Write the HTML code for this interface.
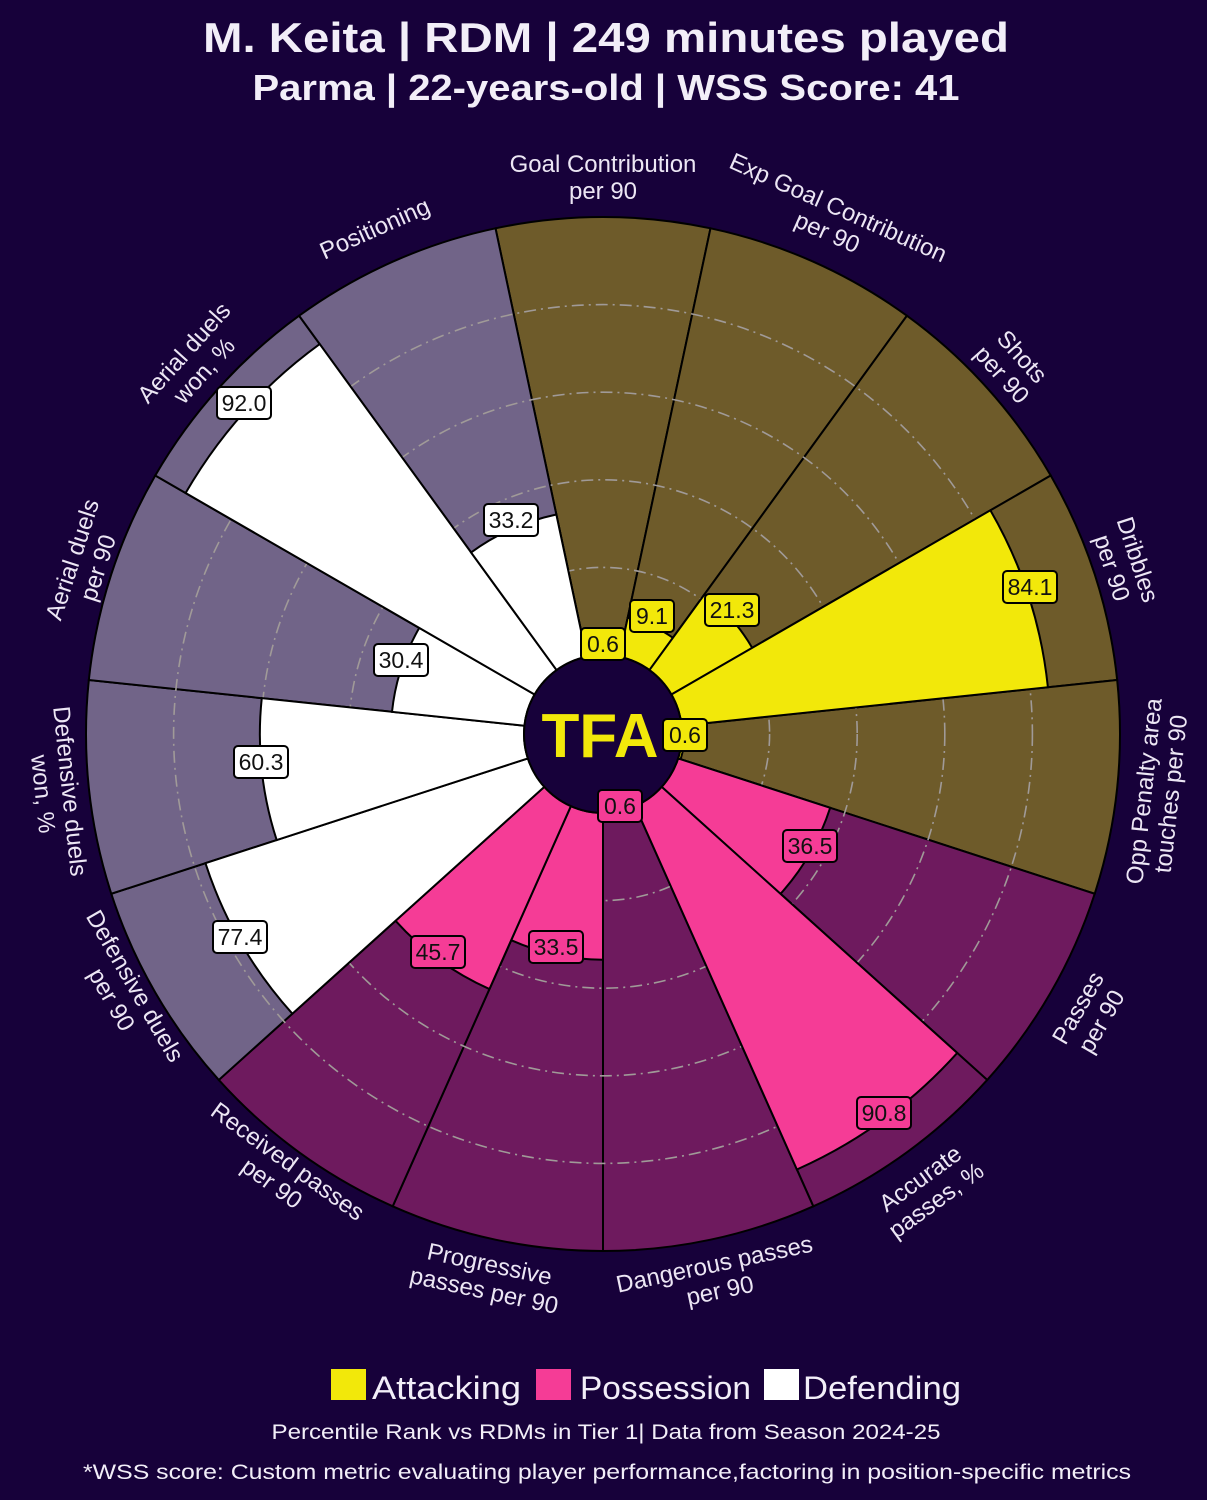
<!DOCTYPE html>
<html><head><meta charset="utf-8">
<style>
html,body{margin:0;padding:0;background:#17013a;}
body{width:1207px;height:1500px;overflow:hidden;font-family:"Liberation Sans","DejaVu Sans",sans-serif;}
svg{display:block}
.t{fill:#f2eef8;font-family:"Liberation Sans",sans-serif}
.lab{fill:#ece6f4;font-size:24px;font-family:"Liberation Sans",sans-serif}
.val{font-size:23px;fill:#111;font-family:"Liberation Sans",sans-serif}
</style></head>
<body>
<svg id="s" width="1207" height="1500" viewBox="0 0 1207 1500">
<rect width="1207" height="1500" fill="#17013a"/>
<text class="t" x="606" y="52" text-anchor="middle" font-size="42" font-weight="bold" textLength="806" lengthAdjust="spacingAndGlyphs">M. Keita | RDM | 249 minutes played</text>
<text class="t" x="606" y="100" text-anchor="middle" font-size="36" font-weight="bold" textLength="707" lengthAdjust="spacingAndGlyphs">Parma | 22-years-old | WSS Score: 41</text>
<g id="bg"></g>
<g id="grid"></g>
<g id="fg"></g>
<circle cx="603" cy="734" r="79" fill="#17013a" stroke="#000" stroke-width="2"/>
<text x="600" y="757" text-anchor="middle" font-size="62" font-weight="bold" fill="#f2e80a" font-family="Liberation Sans,sans-serif">TFA</text>
<g id="boxes"></g>
<g>
<text class="lab" text-anchor="middle" transform="translate(603,172)"><tspan x="0" y="0">Goal Contribution</tspan><tspan x="0" y="27">per 90</tspan></text>
<text class="lab" text-anchor="middle" transform="translate(835,215) rotate(24)"><tspan x="0" y="0">Exp Goal Contribution</tspan><tspan x="0" y="27">per 90</tspan></text>
<text class="lab" text-anchor="middle" transform="translate(1016,362) rotate(48)"><tspan x="0" y="0">Shots</tspan><tspan x="0" y="27">per 90</tspan></text>
<text class="lab" text-anchor="middle" transform="translate(1130,562) rotate(72)"><tspan x="0" y="0">Dribbles</tspan><tspan x="0" y="27">per 90</tspan></text>
<text class="lab" text-anchor="middle" transform="translate(1152,792) rotate(-84)"><tspan x="0" y="0">Opp Penalty area</tspan><tspan x="0" y="27">touches per 90</tspan></text>
<text class="lab" text-anchor="middle" transform="translate(1085,1012) rotate(-60)"><tspan x="0" y="0">Passes</tspan><tspan x="0" y="27">per 90</tspan></text>
<text class="lab" text-anchor="middle" transform="translate(925,1185) rotate(-36)"><tspan x="0" y="0">Accurate</tspan><tspan x="0" y="27">passes, %</tspan></text>
<text class="lab" text-anchor="middle" transform="translate(716,1272) rotate(-12)"><tspan x="0" y="0">Dangerous passes</tspan><tspan x="0" y="27">per 90</tspan></text>
<text class="lab" text-anchor="middle" transform="translate(488,1272) rotate(12)"><tspan x="0" y="0">Progressive</tspan><tspan x="0" y="27">passes per 90</tspan></text>
<text class="lab" text-anchor="middle" transform="translate(283,1168) rotate(36)"><tspan x="0" y="0">Received passes</tspan><tspan x="0" y="27">per 90</tspan></text>
<text class="lab" text-anchor="middle" transform="translate(128,990) rotate(60)"><tspan x="0" y="0">Defensive duels</tspan><tspan x="0" y="27">per 90</tspan></text>
<text class="lab" text-anchor="middle" transform="translate(62,792) rotate(84)"><tspan x="0" y="0">Defensive duels</tspan><tspan x="0" y="27">won, %</tspan></text>
<text class="lab" text-anchor="middle" transform="translate(80,562) rotate(-72)"><tspan x="0" y="0">Aerial duels</tspan><tspan x="0" y="27">per 90</tspan></text>
<text class="lab" text-anchor="middle" transform="translate(190,358) rotate(-48)"><tspan x="0" y="0">Aerial duels</tspan><tspan x="0" y="27">won, %</tspan></text>
<text class="lab" text-anchor="middle" transform="translate(378,236) rotate(-24)"><tspan x="0" y="0">Positioning</tspan></text>
</g>
<rect x="331" y="1369" width="35" height="31" fill="#f2e80a"/>
<text class="t" x="372" y="1399" font-size="32" textLength="149" lengthAdjust="spacingAndGlyphs">Attacking</text>
<rect x="536" y="1369" width="35" height="31" fill="#f53c96"/>
<text class="t" x="580" y="1399" font-size="32" textLength="171" lengthAdjust="spacingAndGlyphs">Possession</text>
<rect x="764" y="1369" width="35" height="31" fill="#ffffff"/>
<text class="t" x="803" y="1399" font-size="32" textLength="158" lengthAdjust="spacingAndGlyphs">Defending</text>
<text class="t" x="606" y="1439" text-anchor="middle" font-size="21" textLength="669" lengthAdjust="spacingAndGlyphs">Percentile Rank vs RDMs in Tier 1| Data from Season 2024-25</text>
<text class="t" x="607" y="1479" text-anchor="middle" font-size="21" textLength="1048" lengthAdjust="spacingAndGlyphs">*WSS score: Custom metric evaluating player performance,factoring in position-specific metrics</text>
</svg>
<script>
var cx=603,cy=734,r0=79,R=517;
var vals=[0.6,9.1,21.3,84.1,0.6,36.5,90.8,0.6,33.5,45.7,77.4,60.3,30.4,92.0,33.2];
var cat=[0,0,0,0,0,1,1,1,1,1,2,2,2,2,2];
var bgc=["#6e5b2a","#6e1a5e","#716488"],fgc=["#f2e80a","#f53c96","#ffffff"];
var boxes=[[603,644],[652,616],[732,610],[1030,587],[685,735],[810,846],[884,1113],[620,806],[556,947],[438,952],[240,937],[261,762],[401,660],[244,403],[511,520]];
function pt(r,a){var t=a*Math.PI/180;return [cx+r*Math.sin(t),cy-r*Math.cos(t)];}
function wedge(r,a1,a2,fill,stroke){
 var p1=pt(r0,a1),p2=pt(r,a1),p3=pt(r,a2),p4=pt(r0,a2);
 return '<path d="M'+p1+' L'+p2+' A'+r+','+r+' 0 0 1 '+p3+' L'+p4+' A'+r0+','+r0+' 0 0 0 '+p1+'Z" fill="'+fill+'" stroke="'+stroke+'" stroke-width="2"/>';
}
var bg='',fg='',bx='',gr='';
for(var i=0;i<15;i++){
 var a1=i*24-12,a2=a1+24;
 bg+=wedge(R,a1,a2,bgc[cat[i]],"#000");
 var r=r0+(R-r0)*vals[i]/100;
 fg+=wedge(r,a1,a2,fgc[cat[i]],"#000");
 var s=vals[i].toFixed(1),w=s.length>3?54:44,b=boxes[i];
 bx+='<rect x="'+(b[0]-w/2)+'" y="'+(b[1]-16)+'" width="'+w+'" height="32" rx="4" fill="'+fgc[cat[i]]+'" stroke="#000" stroke-width="2"/><text class="val" x="'+b[0]+'" y="'+(b[1]+8)+'" text-anchor="middle">'+s+'</text>';
}
[20,40,60,80].forEach(function(v){var r=r0+(R-r0)*v/100;gr+='<circle cx="'+cx+'" cy="'+cy+'" r="'+r+'" fill="none" stroke="#a09a98" stroke-width="1.6" stroke-dasharray="12,5,2,5"/>';});
document.getElementById('bg').innerHTML=bg;
document.getElementById('grid').innerHTML=gr;
document.getElementById('fg').innerHTML=fg;
document.getElementById('boxes').innerHTML=bx;
</script>
</body></html>
